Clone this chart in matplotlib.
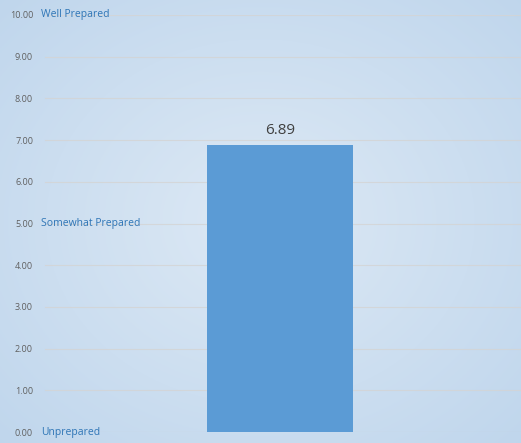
import numpy as np
import matplotlib
matplotlib.use("Agg")
import matplotlib.pyplot as plt

# data
categories = [""]
values = [6.89]
yticks = [0, 1, 2, 3, 4, 5, 6, 7, 8, 9, 10]
scale_labels = {10: "Well Prepared", 5: "Somewhat Prepared", 0: "Unprepared"}

plt.rcParams["font.family"] = ["Open Sans", "DejaVu Sans"]

fig = plt.figure(figsize=(5.21, 4.43), dpi=100)

# soft radial gradient background
bg = fig.add_axes([0, 0, 1, 1])
yy, xx = np.mgrid[0:1:300j, 0:1:300j]
r = np.sqrt(((xx - 0.5) / 0.75) ** 2 + ((yy - 0.5) / 0.75) ** 2)
r = np.clip(r, 0, 1)
inner = np.array([0.867, 0.914, 0.961])
outer = np.array([0.745, 0.835, 0.925])
img = inner[None, None, :] * (1 - r[..., None]) + outer[None, None, :] * r[..., None]
bg.imshow(img, extent=[0, 1, 0, 1], aspect="auto", zorder=0)
bg.axis("off")

ax = fig.add_axes([40 / 521, 1 - 432 / 443, 481 / 521, 417 / 443])
ax.patch.set_alpha(0)
ax.set_xlim(0, 1)
ax.set_ylim(0, 10)

bars = ax.bar([0.499], values, width=0.304, color="#5b9bd5", zorder=3)
for b, v in zip(bars, values):
    ax.text(b.get_x() + b.get_width() / 2, v + 0.15, f"{v:.2f}",
            ha="center", va="bottom", fontsize=11, color="#404040")

for t in yticks:
    ax.axhline(t, xmin=0.01, color="#d4d4d4", lw=0.8, alpha=0.8, zorder=1)

ax.set_yticks(yticks)
ax.set_yticklabels([f"{t:.2f}" for t in yticks], fontsize=6.5, color="#606060")
ax.tick_params(axis="y", length=0, pad=5)
ax.set_xticks([])
for s in ax.spines.values():
    s.set_visible(False)

for t, lab in scale_labels.items():
    ax.text(0.003, t, lab, ha="left", va="center", fontsize=7.5,
            color="#2e75b6", zorder=4)

fig.savefig("out.png", dpi=100)
